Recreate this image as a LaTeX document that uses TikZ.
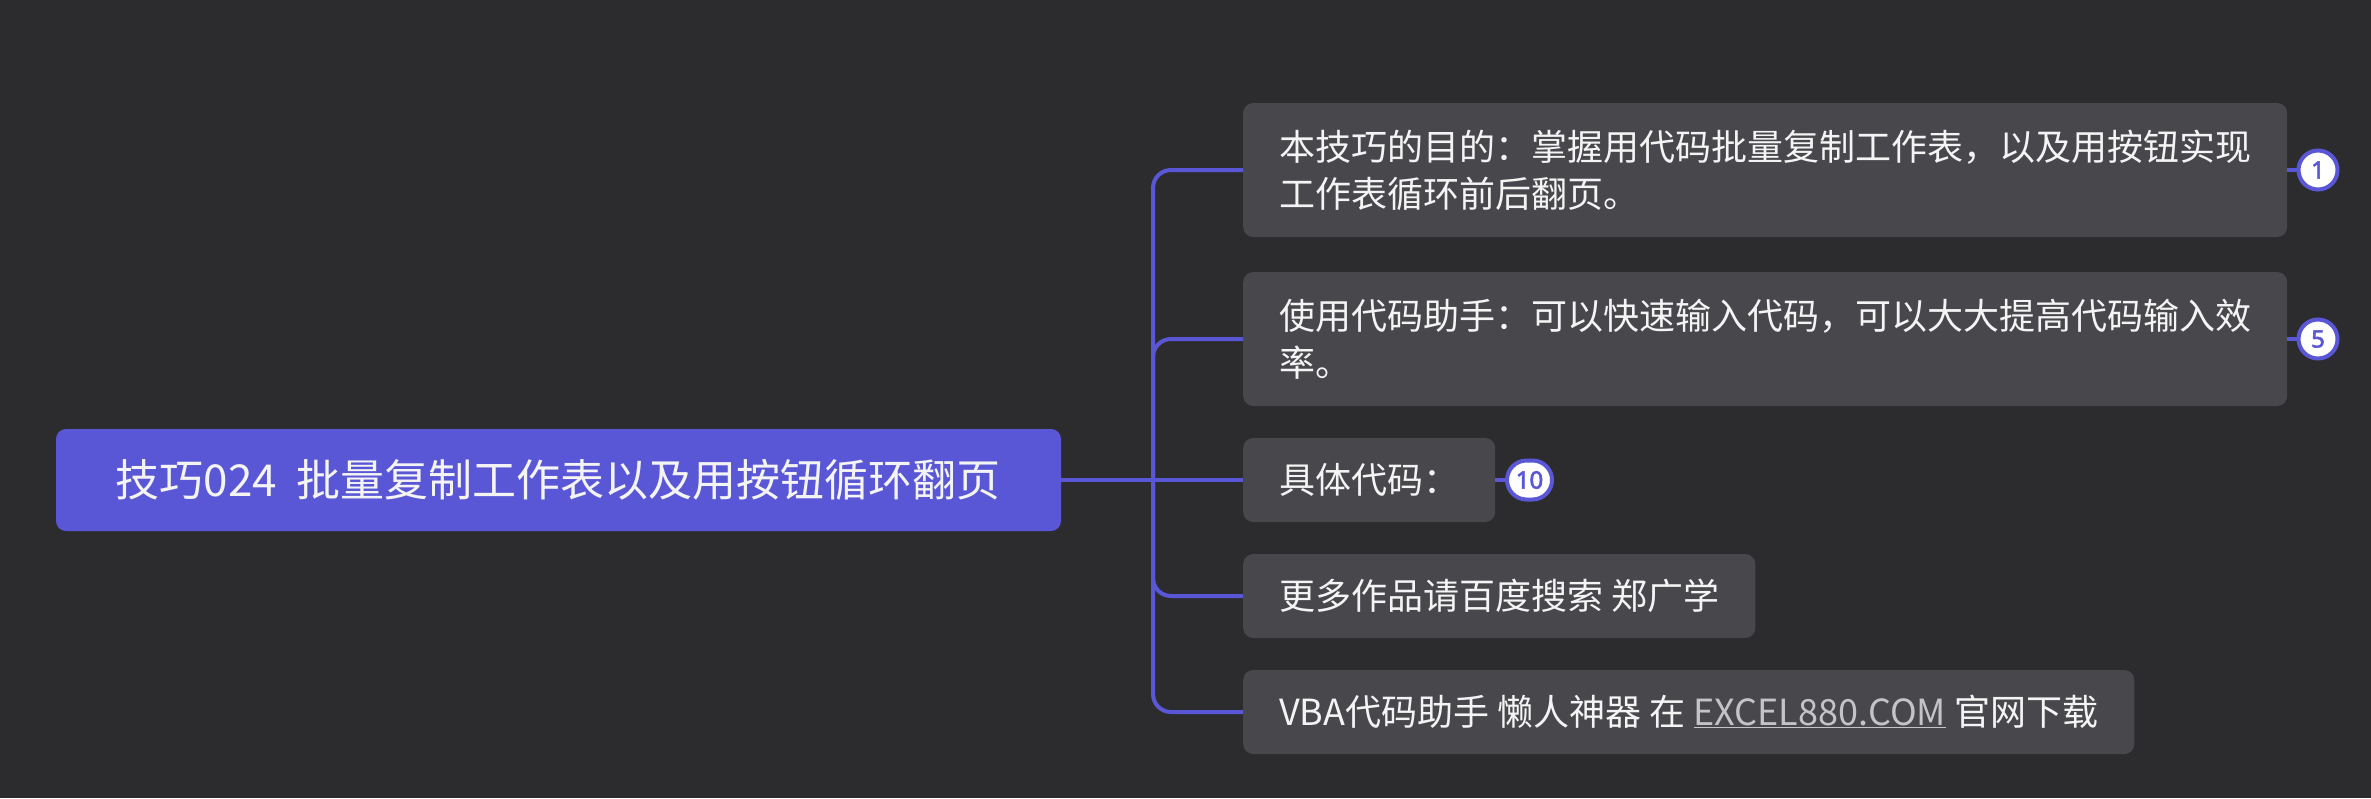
\documentclass[tikz,border=0pt]{standalone}
\usepackage{fontspec}
\setmainfont{Noto Sans CJK SC}
\newfontfamily\badgefont[FakeBold=2.5]{Noto Sans}
\usepackage{tikz}
\usetikzlibrary{positioning,calc}

\definecolor{bgcol}{HTML}{2C2C2F}
\definecolor{boxcol}{HTML}{48474C}
\definecolor{purp}{HTML}{5A57D6}
\definecolor{txtcol}{HTML}{F4F4F4}
\definecolor{linkcol}{HTML}{C4C4C8}

\begin{document}
\begin{tikzpicture}[
  x=1pt, y=-1pt,
  conn/.style={draw=purp, line width=4pt, rounded corners=18pt},
  rootbox/.style={fill=purp, rounded corners=10pt, text=txtcol,
    minimum width=1005pt, minimum height=102pt, inner sep=0pt,
    font=\fontsize{44}{52}\selectfont},
  subbox/.style={fill=boxcol, rounded corners=10pt, text=txtcol,
    anchor=west, inner xsep=36pt, inner ysep=0pt, minimum height=84pt,
    font=\fontsize{36}{47}\selectfont},
  widebox/.style={subbox, text width=972pt, align=left, minimum height=134pt},
  badge/.style={draw=purp, line width=4pt, fill=white, text=purp,
    circle, minimum size=39pt, inner sep=0pt,
    font=\badgefont\fontsize{24}{24}\selectfont},
  pill/.style={badge, rectangle, rounded corners=19.5pt,
    minimum width=45pt, minimum height=39pt},
]

% ── background ──────────────────────────────────────────────────────────────
\fill[bgcol] (0,0) rectangle (2371,798);

% ── root topic ──────────────────────────────────────────────────────────────
\node[rootbox] (root) at (558.5,480)
  {技巧024\hspace{0.45em}批量复制工作表以及用按钮循环翻页};

% ── subtopics ───────────────────────────────────────────────────────────────
\node[widebox] (goal) at (1243,170)
  {本技巧的目的：掌握用代码批量复制工作表，以及用按钮实现\\
   工作表循环前后翻页。};

\node[widebox] (helper) at (1243,339)
  {使用代码助手：可以快速输入代码，可以大大提高代码输入效\\
   率。};

\node[subbox] (code) at (1243,480) {具体代码：};

\node[subbox] (more) at (1243,596) {更多作品请百度搜索 郑广学};

\node[subbox] (vba) at (1243,712)
  {VBA代码助手 懒人神器 在 {\color{linkcol}\underline{EXCEL880.COM}} 官网下载};

% ── count badges ────────────────────────────────────────────────────────────
\node[badge] (n1)  at (2318,170) {1};
\node[badge] (n5)  at (2318,339) {5};
\node[pill]  (n10) at (1529.5,480) {10};

% ── connectors ──────────────────────────────────────────────────────────────
\coordinate (fork) at (1153,480);

\draw[conn] (root.east) -- (code.west);
\draw[conn] (fork) |- (goal.west);
\draw[conn] (fork) |- (helper.west);
\draw[conn] (fork) |- (more.west);
\draw[conn] (fork) |- (vba.west);

% box to badge stubs
\draw[conn] (goal.east)   -- (n1.west);
\draw[conn] (helper.east) -- (n5.west);
\draw[conn] (code.east)   -- (n10.west);
\end{tikzpicture}
\end{document}
